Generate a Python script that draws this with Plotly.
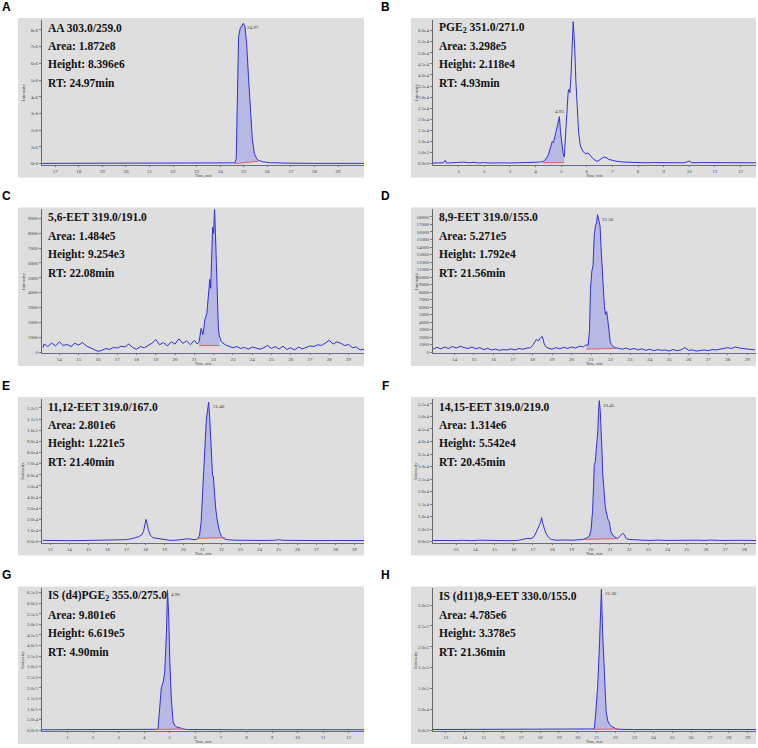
import plotly.graph_objects as go

W, H = 758, 748

# ---------------- DATA ----------------
# Panel A : AA
A_TIME = [16.45, 17, 18, 19, 20, 21, 22, 23, 24, 24.5, 24.62, 24.68, 24.72, 24.78, 24.85, 24.92, 24.98,
          25.05, 25.12, 25.2, 25.28, 25.36, 25.45, 25.55, 25.62, 25.8, 26.1, 26.5, 27, 28, 29, 30.1]
A_INTENSITY = [0.02e6, 0.02e6, 0.02e6, 0.02e6, 0.02e6, 0.02e6, 0.02e6, 0.02e6, 0.03e6, 0.04e6, 0.05e6, 0.3e6,
               4.5e6, 7.6e6, 8.1e6, 8.3e6, 8.396e6, 8.2e6, 7.2e6, 5.2e6, 3.0e6, 1.5e6, 0.6e6, 0.3e6, 0.2e6,
               0.12e6, 0.06e6, 0.04e6, 0.03e6, 0.02e6, 0.02e6, 0.02e6]
A_PEAK = [24.62, 25.62]
A_BASE = [0.0, 0.15e6]

# Panel B : PGE2
B_TIME = [0.0, 0.2, 0.4, 0.48, 0.52, 0.7, 0.9, 1.0, 1.2, 1.4, 1.6, 1.8, 2.0, 2.2, 2.4, 2.6, 2.8, 3.0, 3.2,
          3.4, 3.6, 3.8, 4.0, 4.15, 4.3, 4.4, 4.5, 4.6, 4.65, 4.7, 4.75, 4.8, 4.85, 4.9, 4.93, 4.97, 5.02,
          5.07, 5.12, 5.17, 5.22, 5.27, 5.3, 5.34, 5.38, 5.42, 5.45, 5.47, 5.5, 5.53, 5.57, 5.62, 5.68,
          5.75, 5.85, 5.95, 6.05, 6.15, 6.25, 6.4, 6.55, 6.67, 6.75, 6.85, 7.0, 7.2, 7.5, 7.8, 8.0, 8.3,
          8.6, 9.0, 9.4, 9.8, 10.0, 10.1, 10.5, 11.0, 11.4, 11.8, 12.2, 12.6]
B_INTENSITY = [300, 500, 400, 1500, 300, 400, 600, 500, 700, 400, 600, 300, 500, 300, 400, 300, 400, 300,
               350, 300, 400, 350, 500, 700, 1000, 2000, 4000, 7500, 10000, 9500, 11500, 14500, 17000,
               19000, 21200, 15000, 9000, 5000, 3000, 12000, 25000, 32000, 33500, 32000, 39000, 48000,
               55000, 64000, 58000, 52000, 38000, 25000, 14000, 8000, 5500, 4500, 4800, 3500, 2200, 1000,
               2000, 3000, 2800, 2000, 1500, 1000, 700, 500, 600, 400, 500, 400, 500, 400, 1200, 400, 500,
               400, 600, 400, 500, 400]
B_PEAK = [4.3, 5.12]
B_BASE = [400, 500]

# Panel C : 5,6-EET
C_TIME = [13.15, 13.2, 13.4, 13.6, 13.8, 14.0, 14.2, 14.4, 14.6, 14.8, 15.0, 15.2, 15.4, 15.6, 15.8, 16.0,
          16.2, 16.4, 16.6, 16.8, 17.0, 17.2, 17.4, 17.6, 17.8, 18.0, 18.2, 18.4, 18.6, 18.8, 19.0, 19.2,
          19.4, 19.6, 19.8, 20.0, 20.2, 20.4, 20.6, 20.8, 21.0, 21.15, 21.25, 21.35, 21.45, 21.55, 21.65,
          21.72, 21.8, 21.85, 21.9, 21.95, 22.0, 22.05, 22.1, 22.15, 22.2, 22.25, 22.3, 22.4, 22.6, 22.8,
          23.0, 23.2, 23.4, 23.6, 23.8, 24.0, 24.2, 24.4, 24.6, 24.8, 25.0, 25.2, 25.4, 25.6, 25.8, 26.0,
          26.2, 26.4, 26.6, 26.8, 27.0, 27.2, 27.4, 27.6, 27.8, 28.0, 28.2, 28.4, 28.6, 28.8, 29.0, 29.2,
          29.4, 29.6, 29.8]
C_INTENSITY = [300, 550, 380, 620, 420, 700, 450, 520, 380, 600, 480, 650, 420, 300, 150, 60, 120, 250, 180,
               320, 280, 400, 350, 550, 320, 200, 380, 300, 450, 600, 850, 500, 650, 420, 700, 550, 900, 600,
               750, 500, 800, 550, 700, 1600, 1200, 2200, 2600, 3500, 4900, 4300, 6500, 8400, 8000, 9700,
               7800, 5200, 2800, 1500, 1100, 700, 500, 420, 300, 380, 250, 320, 200, 350, 280, 200, 300,
               450, 250, 380, 220, 400, 180, 300, 150, 350, 220, 300, 420, 380, 500, 450, 620, 800, 550,
               700, 600, 450, 520, 300, 350, 150, 200]
C_PEAK = [21.25, 22.3]
C_BASE = [450, 450]

# Panel D : 8,9-EET
D_TIME = [12.9, 13.1, 13.3, 13.5, 13.7, 13.9, 14.1, 14.3, 14.5, 14.7, 14.9, 15.1, 15.3, 15.5, 15.7, 15.9,
          16.1, 16.3, 16.5, 16.7, 16.9, 17.1, 17.3, 17.5, 17.7, 17.9, 18.0, 18.1, 18.2, 18.3, 18.4, 18.5,
          18.55, 18.6, 18.7, 18.8, 19.0, 19.2, 19.4, 19.6, 19.8, 20.0, 20.2, 20.4, 20.6, 20.75, 20.85,
          20.92, 20.97, 21.04, 21.1, 21.16, 21.22, 21.28, 21.33, 21.4, 21.46, 21.52, 21.58, 21.63, 21.68,
          21.74, 21.8, 21.86, 21.92, 21.98, 22.05, 22.15, 22.25, 22.4, 22.6, 22.8, 23.0, 23.2, 23.4, 23.6,
          23.8, 24.0, 24.2, 24.4, 24.6, 24.8, 25.0, 25.2, 25.4, 25.6, 25.8, 26.0, 26.2, 26.4, 26.6, 26.8,
          27.0, 27.2, 27.4, 27.6, 27.8, 28.0, 28.2, 28.4, 28.6, 28.8, 29.0, 29.2, 29.4]
D_INTENSITY = [400, 650, 450, 700, 500, 750, 550, 800, 600, 500, 700, 450, 600, 350, 500, 300, 400, 250,
               350, 300, 450, 300, 500, 400, 550, 600, 900, 1300, 1700, 1500, 1900, 2100, 1600, 1100, 700,
               550, 400, 600, 450, 650, 500, 700, 550, 800, 700, 1000, 900, 3000, 8500, 10800, 11500, 15500,
               16800, 17200, 18300, 17600, 16800, 13500, 10500, 8800, 6200, 5000, 5400, 4200, 2500, 1400,
               1000, 700, 600, 500, 400, 550, 350, 500, 300, 450, 250, 400, 200, 350, 250, 300, 150, 350,
               200, 300, 600, 250, 300, 150, 250, 300, 200, 350, 300, 400, 450, 600, 500, 700, 550, 500, 400,
               350, 300]
D_PEAK = [20.75, 22.25]
D_BASE = [400, 500]

# Panel E : 11,12-EET
E_TIME = [12.6, 13.0, 13.5, 14.0, 14.5, 15.0, 15.5, 16.0, 16.5, 17.0, 17.3, 17.6, 17.8, 17.9, 17.97, 18.03,
          18.08, 18.15, 18.25, 18.4, 18.6, 18.8, 19.0, 19.3, 19.6, 19.9, 20.2, 20.4, 20.6, 20.75, 20.85,
          20.93, 21.0, 21.05, 21.1, 21.15, 21.2, 21.27, 21.33, 21.38, 21.43, 21.48, 21.53, 21.58, 21.62,
          21.68, 21.75, 21.82, 21.9, 22.0, 22.1, 22.2, 22.4, 22.8, 23.3, 23.8, 24.3, 24.8, 25.0, 25.3,
          25.8, 26.3, 26.8, 27.3, 27.8, 28.3, 28.8, 29.3, 29.5]
E_INTENSITY = [1200, 1000, 1100, 900, 1000, 1100, 900, 1000, 1200, 1800, 2800, 4200, 6000, 9000, 15000,
               20000, 17000, 11000, 6000, 3500, 3000, 2600, 1800, 1200, 1300, 2000, 2600, 2200, 1800, 2500,
               6000, 17000, 40000, 55000, 70000, 85000, 108000, 118000, 125000, 112000, 96000, 75000, 60000,
               58000, 47000, 33000, 22000, 15000, 9000, 5000, 3000, 2200, 1600, 1300, 1100, 1000, 1100,
               1300, 1700, 1200, 1000, 1100, 900, 1000, 1100, 900, 1000, 1100, 1000]
E_PEAK = [20.75, 22.2]
E_BASE = [3000, 3500]

# Panel F : 14,15-EET
F_TIME = [11.8, 12.2, 12.6, 13.0, 13.4, 13.8, 14.2, 14.6, 15.0, 15.4, 15.8, 16.2, 16.5, 16.7, 16.9, 17.05,
          17.15, 17.25, 17.33, 17.4, 17.45, 17.5, 17.55, 17.62, 17.7, 17.8, 17.95, 18.2, 18.5, 18.8, 19.1,
          19.4, 19.62, 19.8, 19.93, 20.02, 20.1, 20.15, 20.19, 20.24, 20.28, 20.33, 20.37, 20.41, 20.45,
          20.5, 20.54, 20.59, 20.63, 20.68, 20.71, 20.76, 20.8, 20.85, 20.89, 20.93, 20.97, 21.02, 21.06,
          21.15, 21.23, 21.32, 21.41, 21.55, 21.67, 21.75, 21.84, 22.0, 22.3, 22.7, 23.1, 23.5, 23.9, 24.3,
          24.7, 25.1, 25.5, 25.9, 26.3, 26.7, 27.1, 27.5, 27.9, 28.3, 28.6]
F_INTENSITY = [500, 400, 600, 450, 550, 400, 600, 500, 450, 550, 400, 500, 900, 1300, 1200, 2000, 3500,
               5000, 6500, 8000, 9600, 7500, 6000, 4500, 3000, 1800, 900, 600, 700, 500, 600, 800, 900,
               1500, 2200, 4600, 12400, 22000, 30800, 32000, 36000, 40000, 44000, 52000, 56300, 52000,
               46500, 36000, 27000, 20000, 17700, 14000, 12400, 10000, 9200, 8500, 7900, 5500, 3900, 2600,
               2000, 1500, 1300, 2200, 3300, 2800, 1300, 900, 700, 600, 500, 650, 500, 600, 700, 550, 600,
               500, 650, 500, 600, 450, 550, 500, 450]
F_PEAK = [19.62, 21.41]
F_BASE = [900, 1200]

# Panel G : IS (d4)PGE2
G_TIME = [0.0, 0.5, 1, 2, 3, 4, 4.3, 4.48, 4.54, 4.61, 4.67, 4.74, 4.8, 4.84, 4.87, 4.91, 4.96, 5.0, 5.06,
          5.13, 5.2, 5.26, 5.35, 5.45, 5.56, 5.7, 6, 7, 8, 9, 10, 11, 12, 12.6]
G_INTENSITY = [2000, 2000, 2000, 2000, 2000, 2500, 3000, 4000, 8000, 100000, 200000, 226000, 270000, 380000,
               460000, 661900, 540000, 335000, 148000, 39000, 22000, 16000, 12000, 8000, 5000, 3000, 2500,
               2000, 2000, 2000, 2000, 2000, 2000, 2000]
G_PEAK = [4.48, 5.56]
G_BASE = [3000, 6000]

# Panel H : IS (d11)8,9-EET
H_TIME = [12.33, 13, 14, 15, 16, 17, 18, 19, 20, 20.5, 20.8, 20.88, 20.97, 21.06, 21.15, 21.2, 21.25,
          21.32, 21.41, 21.5, 21.59, 21.68, 21.77, 21.9, 22.03, 22.2, 22.5, 23, 24, 25, 26, 27, 28, 29, 29.44]
H_INTENSITY = [1500, 1500, 1500, 1500, 1500, 1500, 1500, 1500, 1500, 1800, 2000, 3000, 53000, 110000,
               207000, 296000, 337800, 230000, 114000, 45000, 22000, 14000, 10000, 6000, 3000, 2000, 1500,
               1500, 1500, 1500, 1500, 1500, 1500, 1500, 1500]
H_PEAK = [20.8, 22.2]
H_BASE = [2000, 3000]

# Text labels
A_INFO = ["AA 303.0/259.0", "Area: 1.872e8", "Height: 8.396e6", "RT: 24.97min"]
B_INFO = ["PGE<sub>2</sub> 351.0/271.0", "Area: 3.298e5", "Height: 2.118e4", "RT: 4.93min"]
C_INFO = ["5,6-EET 319.0/191.0", "Area: 1.484e5", "Height: 9.254e3", "RT: 22.08min"]
D_INFO = ["8,9-EET 319.0/155.0", "Area: 5.271e5", "Height: 1.792e4", "RT: 21.56min"]
E_INFO = ["11,12-EET 319.0/167.0", "Area: 2.801e6", "Height: 1.221e5", "RT: 21.40min"]
F_INFO = ["14,15-EET 319.0/219.0", "Area: 1.314e6", "Height: 5.542e4", "RT: 20.45min"]
G_INFO = ["IS (d4)PGE<sub>2</sub> 355.0/275.0", "Area: 9.801e6", "Height: 6.619e5", "RT: 4.90min"]
H_INFO = ["IS (d11)8,9-EET 330.0/155.0", "Area: 4.785e6", "Height: 3.378e5", "RT: 21.36min"]

A_RT, B_RT, C_RT, D_RT = "24.97", "4.93", "22.08", "21.56"
E_RT, F_RT, G_RT, H_RT = "21.40", "20.45", "4.90", "21.36"

# Axis ticks
A_XTICKS = list(range(17, 30))
B_XTICKS = list(range(1, 13))
C_XTICKS = list(range(14, 30))
D_XTICKS = list(range(14, 30))
E_XTICKS = list(range(13, 30))
F_XTICKS = list(range(13, 29))
G_XTICKS = list(range(1, 13))
H_XTICKS = list(range(13, 30))

A_YVALS = [0, 1e6, 2e6, 3e6, 4e6, 5e6, 6e6, 7e6, 8e6]
A_YTEXT = ["0e0", "1e6", "2e6", "3e6", "4e6", "5e6", "6e6", "7e6", "8e6"]
B_YVALS = [0, 5e3, 1e4, 1.5e4, 2e4, 2.5e4, 3e4, 3.5e4, 4e4, 4.5e4, 5e4, 5.5e4, 6e4]
B_YTEXT = ["0.0e0", "5.0e3", "1.0e4", "1.5e4", "2.0e4", "2.5e4", "3.0e4", "3.5e4", "4.0e4", "4.5e4",
           "5.0e4", "5.5e4", "6.0e4"]
C_YVALS = [0, 1000, 2000, 3000, 4000, 5000, 6000, 7000, 8000, 9000]
C_YTEXT = ["0", "1000", "2000", "3000", "4000", "5000", "6000", "7000", "8000", "9000"]
D_YVALS = [0, 1000, 2000, 3000, 4000, 5000, 6000, 7000, 8000, 9000, 10000, 11000, 12000, 13000, 14000,
           15000, 16000, 17000, 18000]
D_YTEXT = ["0", "1000", "2000", "3000", "4000", "5000", "6000", "7000", "8000", "9000", "10000", "11000",
           "12000", "13000", "14000", "15000", "16000", "17000", "18000"]
E_YVALS = [0, 1e4, 2e4, 3e4, 4e4, 5e4, 6e4, 7e4, 8e4, 9e4, 1e5, 1.1e5, 1.2e5]
E_YTEXT = ["0.0e0", "1.0e4", "2.0e4", "3.0e4", "4.0e4", "5.0e4", "6.0e4", "7.0e4", "8.0e4", "9.0e4",
           "1.0e5", "1.1e5", "1.2e5"]
F_YVALS = [0, 5e3, 1e4, 1.5e4, 2e4, 2.5e4, 3e4, 3.5e4, 4e4, 4.5e4, 5e4, 5.5e4]
F_YTEXT = ["0.0e0", "5.0e3", "1.0e4", "1.5e4", "2.0e4", "2.5e4", "3.0e4", "3.5e4", "4.0e4", "4.5e4",
           "5.0e4", "5.5e4"]
G_YVALS = [0, 5e4, 1e5, 1.5e5, 2e5, 2.5e5, 3e5, 3.5e5, 4e5, 4.5e5, 5e5, 5.5e5, 6e5, 6.5e5]
G_YTEXT = ["0.0e0", "5.0e4", "1.0e5", "1.5e5", "2.0e5", "2.5e5", "3.0e5", "3.5e5", "4.0e5", "4.5e5",
           "5.0e5", "5.5e5", "6.0e5", "6.5e5"]
H_YVALS = [0, 5e4, 1e5, 1.5e5, 2e5, 2.5e5, 3e5]
H_YTEXT = ["0.0e0", "5.0e4", "1.0e5", "1.5e5", "2.0e5", "2.5e5", "3.0e5"]

# axis ranges
A_XRANGE, A_YMAX = [16.44, 30.1], 8.6e6
B_XRANGE, B_YMAX = [0.0, 12.6], 6.48e4
C_XRANGE, C_YMAX = [13.1, 29.8], 9.6e3
D_XRANGE, D_YMAX = [12.9, 29.45], 1.9e4
E_XRANGE, E_YMAX = [12.56, 29.5], 1.28e5
F_XRANGE, F_YMAX = [11.8, 28.6], 5.7e4
G_XRANGE, G_YMAX = [0.0, 12.6], 6.7e5
H_XRANGE, H_YMAX = [12.33, 29.44], 3.4e5

# ---------------- LAYOUT / STYLE ----------------
COL_GRAY = [(18, 364), (411, 756)]
COL_AXIS = [42, 433]
COL_LETTER_X = [6, 385]
ROW_GRAY = [(18, 178), (208, 367), (398, 557), (588, 746)]
LABEL_ABOVE = {"B"}          # apex label drawn centred above the peak

GRAY = "#dedede"
LINE = "#3030d8"
FILL = "#b8b8e4"
RED = "#e06060"
GREEN = "#3a9a5a"
TICKFONT = dict(family="Liberation Serif", size=5, color="#444")

panels = [
    ("A", 0, 0, A_TIME, A_INTENSITY, A_PEAK, A_BASE, A_INFO, A_RT, A_XTICKS, A_YVALS, A_YTEXT, A_XRANGE, A_YMAX),
    ("B", 1, 0, B_TIME, B_INTENSITY, B_PEAK, B_BASE, B_INFO, B_RT, B_XTICKS, B_YVALS, B_YTEXT, B_XRANGE, B_YMAX),
    ("C", 0, 1, C_TIME, C_INTENSITY, C_PEAK, C_BASE, C_INFO, C_RT, C_XTICKS, C_YVALS, C_YTEXT, C_XRANGE, C_YMAX),
    ("D", 1, 1, D_TIME, D_INTENSITY, D_PEAK, D_BASE, D_INFO, D_RT, D_XTICKS, D_YVALS, D_YTEXT, D_XRANGE, D_YMAX),
    ("E", 0, 2, E_TIME, E_INTENSITY, E_PEAK, E_BASE, E_INFO, E_RT, E_XTICKS, E_YVALS, E_YTEXT, E_XRANGE, E_YMAX),
    ("F", 1, 2, F_TIME, F_INTENSITY, F_PEAK, F_BASE, F_INFO, F_RT, F_XTICKS, F_YVALS, F_YTEXT, F_XRANGE, F_YMAX),
    ("G", 0, 3, G_TIME, G_INTENSITY, G_PEAK, G_BASE, G_INFO, G_RT, G_XTICKS, G_YVALS, G_YTEXT, G_XRANGE, G_YMAX),
    ("H", 1, 3, H_TIME, H_INTENSITY, H_PEAK, H_BASE, H_INFO, H_RT, H_XTICKS, H_YVALS, H_YTEXT, H_XRANGE, H_YMAX),
]


def pxx(p):
    return p / W


def pxy(p):
    return 1 - p / H


fig = go.Figure()
shapes, annotations = [], []
layout_axes = {}

for i, (letter, col, row, xs, ys, peak, base, info, rt, xt, yv, yt, xr, ymax) in enumerate(panels, start=1):
    xa = "x" if i == 1 else f"x{i}"
    ya = "y" if i == 1 else f"y{i}"
    xkey = "xaxis" if i == 1 else f"xaxis{i}"
    ykey = "yaxis" if i == 1 else f"yaxis{i}"

    g0, g1 = COL_GRAY[col]
    r0, r1 = ROW_GRAY[row]
    ax_left = COL_AXIS[col]
    p_top, p_bot = r0 + 2, r1 - 13

    shapes.append(dict(type="rect", xref="paper", yref="paper", x0=pxx(g0), x1=pxx(g1),
                       y0=pxy(r1), y1=pxy(r0), fillcolor=GRAY, line=dict(width=0), layer="below"))

    layout_axes[xkey] = dict(domain=[pxx(ax_left), pxx(g1)], anchor=ya, range=xr, tickvals=xt,
                             ticktext=[str(v) for v in xt], showgrid=False, zeroline=False,
                             showline=True, linecolor="#6a6a8a", linewidth=1, ticks="outside",
                             ticklen=1, tickcolor="#777", tickfont=TICKFONT)
    ylo = -0.006 * ymax
    layout_axes[ykey] = dict(domain=[pxy(p_bot), pxy(p_top)], anchor=xa, range=[ylo, ymax],
                             tickvals=yv, ticktext=yt, showgrid=False, zeroline=False,
                             showline=True, linecolor="#666", linewidth=1, ticks="outside",
                             ticklen=2, tickcolor="#777", tickfont=TICKFONT)

    # integrated peak area
    s, e = peak
    fx = [t for t in xs if s <= t <= e]
    fy = [v for t, v in zip(xs, ys) if s <= t <= e]
    fig.add_trace(go.Scatter(x=fx + [e, s], y=fy + [base[1], base[0]], xaxis=xa, yaxis=ya,
                             mode="lines", fill="toself", fillcolor=FILL, line=dict(width=0),
                             hoverinfo="skip", showlegend=False))
    # chromatogram
    fig.add_trace(go.Scatter(x=xs, y=ys, xaxis=xa, yaxis=ya, mode="lines",
                             line=dict(color=LINE, width=1), showlegend=False))
    # baseline
    fig.add_trace(go.Scatter(x=[s, e], y=base, xaxis=xa, yaxis=ya, mode="lines",
                             line=dict(color=RED, width=1), showlegend=False))
    # integration markers
    fig.add_trace(go.Scatter(x=[s, e], y=[-0.035 * ymax] * 2, xaxis=xa, yaxis=ya, mode="markers",
                             marker=dict(symbol="triangle-down-open", size=5, color=GREEN,
                                         line=dict(width=1, color=GREEN)),
                             cliponaxis=False, showlegend=False))

    # apex label (apex of the integrated peak)
    k = max(range(len(fx)), key=lambda j: fy[j])
    if letter in LABEL_ABOVE:
        annotations.append(dict(x=fx[k], y=fy[k], xref=xa, yref=ya, text=rt, showarrow=False,
                                xanchor="center", yanchor="bottom", yshift=1,
                                font=dict(family="Liberation Serif", size=5, color="#333")))
    else:
        annotations.append(dict(x=fx[k], y=fy[k], xref=xa, yref=ya, text=rt, showarrow=False,
                                xanchor="left", yanchor="top", xshift=2,
                                font=dict(family="Liberation Serif", size=5, color="#333")))

    # info text
    for j, line in enumerate(info):
        annotations.append(dict(x=pxx(ax_left + 4), y=pxy(r0 + 10 + j * 18.5), xref="paper", yref="paper",
                                text=f"<b>{line}</b>", showarrow=False, xanchor="left", yanchor="middle",
                                font=dict(family="Liberation Serif", size=11.5, color="#111")))

    # panel letter
    annotations.append(dict(x=pxx(COL_LETTER_X[col]), y=pxy(r0 - 11), xref="paper", yref="paper",
                            text=f"<b>{letter}</b>", showarrow=False, xanchor="center", yanchor="middle",
                            font=dict(family="Liberation Sans", size=12, color="#000")))
    # axis titles
    annotations.append(dict(x=pxx((ax_left + g1) / 2), y=pxy(r1 - 2), xref="paper", yref="paper",
                            text="Time, min", showarrow=False, xanchor="center", yanchor="middle",
                            font=dict(family="Liberation Serif", size=4, color="#444")))
    annotations.append(dict(x=pxx(g0 + 5), y=pxy((p_top + p_bot) / 2), xref="paper", yref="paper",
                            text="Intensity", showarrow=False, textangle=-90, xanchor="center",
                            yanchor="middle",
                            font=dict(family="Liberation Serif", size=5, color="#444")))

fig.update_layout(width=W, height=H, margin=dict(l=0, r=0, t=0, b=0), paper_bgcolor="white",
                  plot_bgcolor="rgba(0,0,0,0)", shapes=shapes, annotations=annotations,
                  showlegend=False, **layout_axes)

fig.write_html("out.html", config={"displayModeBar": False},
               post_script="document.body.style.margin='0';")
